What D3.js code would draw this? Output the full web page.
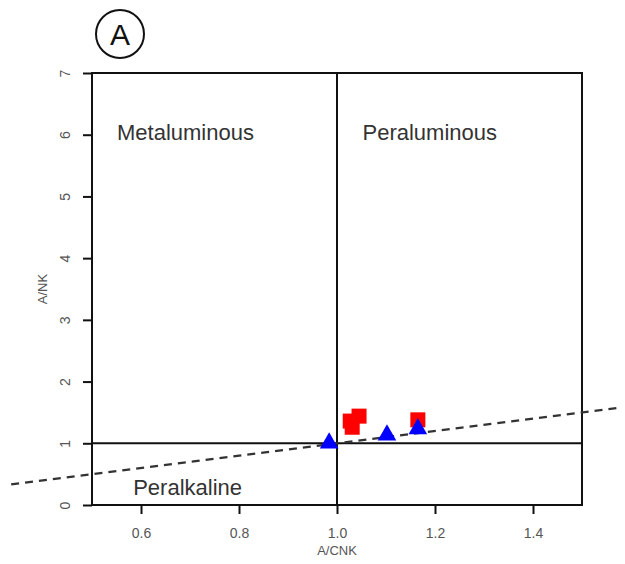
<!DOCTYPE html>
<html><head><meta charset="utf-8">
<script src="https://cdn.jsdelivr.net/npm/d3@7"></script>
<style>body{margin:0;background:#fff}svg{display:block}</style>
</head><body>
<script>
const xTicks = [0.6, 0.8, 1.0, 1.2, 1.4];
const yTicks = [0, 1, 2, 3, 4, 5, 6, 7];
const squaresX = [1.027, 1.031, 1.045, 1.165];
const squaresY = [1.36, 1.26, 1.44, 1.38];
const trianglesX = [0.984, 1.102, 1.165];
const trianglesY = [1.02, 1.15, 1.25];
const fieldLabels = ["Metaluminous", "Peraluminous", "Peralkaline"];
const fieldX = [0.551, 1.052, 0.584];
const fieldY = [5.92, 5.92, 0.17];
const refLineX = [0.335, 1.58];

const W = 625, H = 564;
const svg = d3.select("body").append("svg").attr("width", W).attr("height", H);
const x = d3.scaleLinear().domain([0.5, 1.5]).range([92, 582]);
const y = d3.scaleLinear().domain([0, 7]).range([505, 73]);
const FONT = "Liberation Sans, Arial, sans-serif";

// panel label
svg.append("circle").attr("cx", 120).attr("cy", 34).attr("r", 24)
  .attr("fill", "none").attr("stroke", "#111").attr("stroke-width", 2);
svg.append("text").attr("x", 120).attr("y", 45).attr("text-anchor", "middle")
  .attr("font-family", FONT).attr("font-size", 30).attr("fill", "#111").text("A");

// axes
const xAxis = d3.axisBottom(x).tickValues(xTicks).tickFormat(d3.format(".1f")).tickSize(9).tickPadding(14);
const gx = svg.append("g").attr("transform", "translate(0,505)").call(xAxis);
gx.select(".domain").remove();
gx.selectAll("line").attr("stroke", "#111").attr("stroke-width", 2);
gx.selectAll("text").attr("font-family", FONT).attr("font-size", 14).attr("fill", "#555");

const yAxis = d3.axisLeft(y).tickValues(yTicks).tickFormat(d3.format("d")).tickSize(9);
const gy = svg.append("g").attr("transform", "translate(92,0)").call(yAxis);
gy.select(".domain").remove();
gy.selectAll("line").attr("stroke", "#111").attr("stroke-width", 2);
gy.selectAll("text").remove();
gy.selectAll(".tick").append("text")
  .attr("transform", "translate(-27,0) rotate(-90)")
  .attr("text-anchor", "middle").attr("dy", "0.35em")
  .attr("font-family", FONT).attr("font-size", 14).attr("fill", "#555")
  .text(d => d);

svg.append("text").attr("x", x(1.0)).attr("y", 555).attr("text-anchor", "middle")
  .attr("font-family", FONT).attr("font-size", 13).attr("fill", "#555").text("A/CNK");
svg.append("text").attr("transform", `translate(47,${y(3.5)}) rotate(-90)`).attr("text-anchor", "middle")
  .attr("font-family", FONT).attr("font-size", 13).attr("fill", "#555").text("A/NK");

// box and field dividers
svg.append("rect").attr("x", x(0.5)).attr("y", y(7)).attr("width", x(1.5) - x(0.5)).attr("height", y(0) - y(7))
  .attr("fill", "none").attr("stroke", "#111").attr("stroke-width", 2);
svg.append("line").attr("x1", x(1.0)).attr("x2", x(1.0)).attr("y1", y(7)).attr("y2", y(0))
  .attr("stroke", "#111").attr("stroke-width", 2);
svg.append("line").attr("x1", x(0.5)).attr("x2", x(1.5)).attr("y1", y(1)).attr("y2", y(1))
  .attr("stroke", "#111").attr("stroke-width", 2);

// reference dashed line A/NK = A/CNK
svg.append("line").attr("x1", x(refLineX[0])).attr("y1", y(refLineX[0]))
  .attr("x2", x(refLineX[1])).attr("y2", y(refLineX[1]))
  .attr("stroke", "#333").attr("stroke-width", 2.2).attr("stroke-dasharray", "8,6");

// field labels
svg.selectAll(".field").data(fieldLabels).enter().append("text")
  .attr("x", (d, i) => x(fieldX[i])).attr("y", (d, i) => y(fieldY[i]))
  .attr("font-family", FONT).attr("font-size", 22).attr("fill", "#333")
  .text(d => d);

// data
const sq = 15;
svg.selectAll(".sq").data(squaresX).enter().append("rect")
  .attr("x", (d) => x(d) - sq / 2).attr("y", (d, i) => y(squaresY[i]) - sq / 2)
  .attr("width", sq).attr("height", sq).attr("fill", "#ff0000");
const tri = d3.symbol().type(d3.symbolTriangle).size(150);
svg.selectAll(".tri").data(trianglesX).enter().append("path")
  .attr("d", tri).attr("transform", (d, i) => `translate(${x(d)},${y(trianglesY[i]) + 1})`)
  .attr("fill", "#0000ff");
</script>
</body></html>
